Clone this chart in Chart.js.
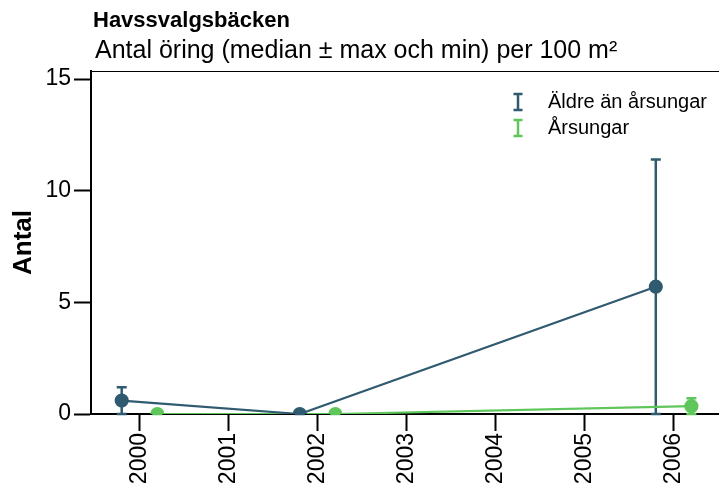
<!DOCTYPE html>
<html>
<head>
<meta charset="utf-8">
<script src="https://cdn.jsdelivr.net/npm/chart.js@4"></script>
<style>
  html, body { margin: 0; padding: 0; background: #fff; }
  #wrap { width: 719px; height: 490px; }
</style>
</head>
<body>
<div id="wrap"><canvas id="myChart" width="719" height="490"></canvas></div>
<script>
// data
const years = [2000, 2002, 2006];
const aldreMedian = [0.6, 0, 5.7];
const aldreMin = [0, 0, 0];
const aldreMax = [1.2, 0, 11.4];
const arsungarMedian = [0, 0, 0.35];
const arsungarMin = [0, 0, 0];
const arsungarMax = [0, 0, 0.7];
const xTicks = [2000, 2001, 2002, 2003, 2004, 2005, 2006];
const yTicks = [0, 5, 10, 15];
const seriesNames = ["Äldre än årsungar", "Årsungar"];

const FONT = "'Liberation Sans', Arial, sans-serif";
const DARK = "#2f5a6f";
const GREEN = "#5ec65a";
const DODGE = 0.2;

function points(med, shift) {
  return years.map((y, i) => ({ x: y + shift, y: med[i] }));
}

// felstaplar (min - max) ritas via skalorna
const errorBars = {
  id: "errorBars",
  beforeDatasetsDraw(chart) {
    const ctx = chart.ctx;
    const xs = chart.scales.x, ys = chart.scales.y;
    const sets = [
      { shift: -DODGE, lo: aldreMin, hi: aldreMax, color: DARK },
      { shift: DODGE, lo: arsungarMin, hi: arsungarMax, color: GREEN }
    ];
    ctx.save();
    sets.forEach((s) => {
      ctx.strokeStyle = s.color;
      ctx.lineWidth = 2.5;
      years.forEach((yr, i) => {
        const px = xs.getPixelForValue(yr + s.shift);
        const top = ys.getPixelForValue(s.hi[i]);
        const bot = ys.getPixelForValue(s.lo[i]);
        ctx.beginPath();
        ctx.moveTo(px, top); ctx.lineTo(px, bot);
        ctx.moveTo(px - 5, top); ctx.lineTo(px + 5, top);
        ctx.moveTo(px - 5, bot); ctx.lineTo(px + 5, bot);
        ctx.stroke();
      });
    });
    ctx.restore();
  }
};

// titlar, toppkant och legend
const decorations = {
  id: "decorations",
  afterDraw(chart) {
    const ctx = chart.ctx;
    const area = chart.chartArea;
    ctx.save();
    ctx.strokeStyle = "#000";
    ctx.lineWidth = 1.2;
    ctx.beginPath();
    ctx.moveTo(area.left, area.top + 0.5);
    ctx.lineTo(area.right, area.top + 0.5);
    ctx.stroke();

    ctx.fillStyle = "#000";
    ctx.textBaseline = "alphabetic";
    ctx.textAlign = "left";
    ctx.font = "bold 22px " + FONT;
    ctx.fillText("Havssvalgsbäcken", 93, 27);
    ctx.font = "25px " + FONT;
    ctx.fillText("Antal öring (median ± max och min) per 100 m²", 95, 58);

    // legend
    const colors = [DARK, GREEN];
    ctx.font = "20px " + FONT;
    ctx.textBaseline = "middle";
    seriesNames.forEach((name, i) => {
      const cy = area.top + 31 + i * 26;
      const cx = area.right - 201;
      ctx.strokeStyle = colors[i];
      ctx.lineWidth = 2.5;
      ctx.beginPath();
      ctx.moveTo(cx, cy - 8); ctx.lineTo(cx, cy + 8);
      ctx.moveTo(cx - 4.5, cy - 8); ctx.lineTo(cx + 4.5, cy - 8);
      ctx.moveTo(cx - 4.5, cy + 8); ctx.lineTo(cx + 4.5, cy + 8);
      ctx.stroke();
      ctx.fillStyle = "#000";
      ctx.fillText(name, area.right - 171, cy);
    });
    ctx.restore();
  }
};

new Chart("myChart", {
  type: "line",
  data: {
    datasets: [
      {
        label: seriesNames[0],
        data: points(aldreMedian, -DODGE),
        borderColor: DARK,
        backgroundColor: DARK,
        borderWidth: 2.2,
        pointRadius: 6,
        pointHoverRadius: 6,
        clip: 0
      },
      {
        label: seriesNames[1],
        data: points(arsungarMedian, DODGE),
        borderColor: GREEN,
        backgroundColor: GREEN,
        borderWidth: 2.2,
        pointRadius: 6,
        pointHoverRadius: 6,
        clip: 0
      }
    ]
  },
  options: {
    responsive: false,
    animation: false,
    events: [],
    layout: { autoPadding: false, padding: { top: 71, left: 0, right: 0, bottom: 0 } },
    plugins: {
      legend: { display: false },
      title: { display: false },
      tooltip: { enabled: false }
    },
    scales: {
      x: {
        type: "linear",
        min: 1999.455,
        max: 2006.51,
        afterBuildTicks: (scale) => { scale.ticks = xTicks.map((v) => ({ value: v })); },
        afterFit: (scale) => {
          scale.height = 76;
          scale.paddingLeft = 0;
          scale.paddingRight = 0;
        },
        grid: { drawOnChartArea: false, tickLength: 17, tickWidth: 2, tickColor: "#000" },
        border: { color: "#000", width: 2 },
        ticks: {
          minRotation: 90,
          maxRotation: 90,
          padding: 2,
          color: "#000",
          font: { family: FONT, size: 23 },
          callback: (v) => String(v)
        }
      },
      y: {
        min: 0,
        max: 15.36,
        afterBuildTicks: (scale) => { scale.ticks = yTicks.map((v) => ({ value: v })); },
        afterFit: (scale) => {
          scale.width = 91;
          scale.paddingTop = 0;
          scale.paddingBottom = 0;
        },
        grid: { drawOnChartArea: false, tickLength: 17, tickWidth: 2, tickColor: "#000" },
        border: { color: "#000", width: 2 },
        ticks: {
          padding: 3,
          color: "#000",
          font: { family: FONT, size: 23 },
          callback: (v) => String(v)
        },
        title: {
          display: true,
          text: "Antal",
          color: "#000",
          font: { family: FONT, size: 26, weight: "bold" },
          padding: { top: 8, bottom: 0 }
        }
      }
    }
  },
  plugins: [errorBars, decorations]
});
</script>
</body>
</html>
